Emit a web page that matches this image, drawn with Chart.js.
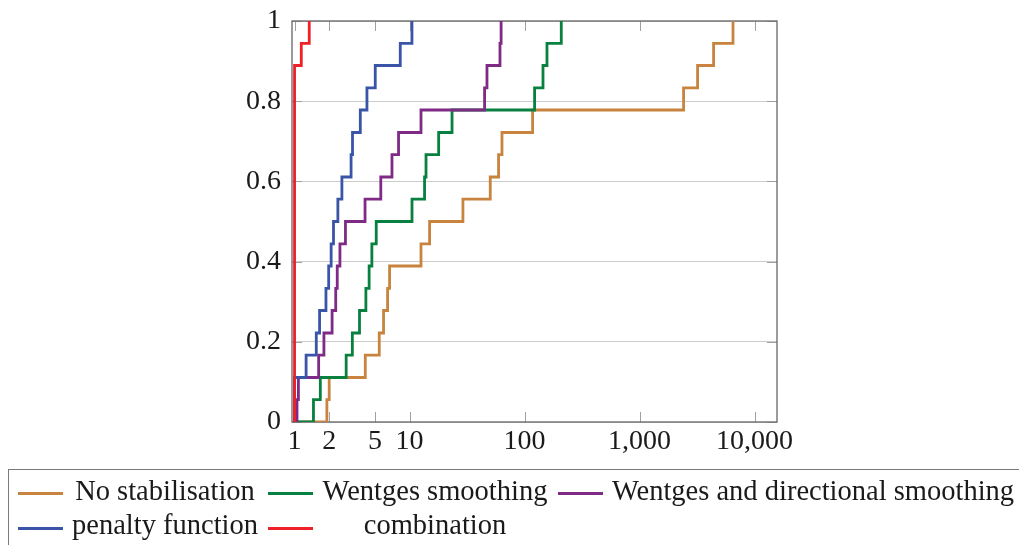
<!DOCTYPE html>
<html>
<head>
<meta charset="utf-8">
<script src="https://cdn.jsdelivr.net/npm/chart.js@4.4.1/dist/chart.umd.min.js"></script>
<style>
  html, body { margin: 0; padding: 0; background: #ffffff; }
  #wrap { position: relative; width: 1019px; height: 545px; overflow: hidden; }
  #c { position: absolute; left: 0; top: 0; }
  #legend { position: absolute; left: 8px; top: 469px; width: 1040px; height: 100px;
            border: 1.3px solid #7a7a7a; box-sizing: border-box; }
  .sw { position: absolute; height: 2.8px; width: 45px; }
  .lt { position: absolute; width: 440px; text-align: center; white-space: nowrap;
        font-family: "Liberation Serif", serif; font-size: 28.5px; line-height: 32px; color: #1a1a1a; }
</style>
</head>
<body>
<div id="wrap">
  <canvas id="c" width="1019" height="545"></canvas>
  <div id="legend"></div>
</div>
<script>
// ---- data (performance profile, 18 instances) ----
const seriesLabels = ['No stabilisation', 'Wentges smoothing', 'Wentges and directional smoothing', 'penalty function', 'combination'];

const noStabX = [1, 1.91, 2.0, 4.12, 5.45, 5.94, 6.44, 6.70, 12.57, 14.93, 29.1, 50.3, 59.4, 63.6, 117.4, 2413, 3194, 4399, 6490];
const noStabY = [0, 0.056, 0.111, 0.167, 0.222, 0.278, 0.333, 0.389, 0.444, 0.5, 0.556, 0.611, 0.667, 0.722, 0.778, 0.833, 0.889, 0.944, 1];

const wentgesX = [1, 1.46, 1.675, 2.81, 3.18, 3.67, 4.17, 4.45, 4.70, 5.13, 10.5, 13.5, 13.9, 17.9, 23.4, 122.2, 144.6, 156.6, 208.5];
const wentgesY = [0, 0.056, 0.111, 0.167, 0.222, 0.278, 0.333, 0.389, 0.444, 0.5, 0.556, 0.611, 0.667, 0.722, 0.778, 0.833, 0.889, 0.944, 1];

const wentgesDirX = [1, 1.05, 1.08, 1.62, 1.80, 2.12, 2.28, 2.35, 2.48, 2.77, 4.1, 5.62, 7.03, 8.02, 12.57, 44.9, 47.1, 61.1, 62.5];
const wentgesDirY = [0, 0.056, 0.111, 0.167, 0.222, 0.278, 0.333, 0.389, 0.444, 0.5, 0.556, 0.611, 0.667, 0.722, 0.778, 0.833, 0.889, 0.944, 1];

const penaltyX = [1, 1, 1.26, 1.545, 1.65, 1.875, 1.98, 2.08, 2.18, 2.38, 2.58, 3.10, 3.19, 3.73, 4.26, 5.03, 8.30, 10.49];
const penaltyY = [0, 0.111, 0.167, 0.222, 0.278, 0.333, 0.389, 0.444, 0.5, 0.556, 0.611, 0.667, 0.722, 0.778, 0.833, 0.889, 0.944, 1];

const combinationX = [1, 1, 1.144, 1.342];
const combinationY = [0, 0.889, 0.944, 1];

const xTickValues = [1, 2, 5, 10, 100, 1000, 10000];
const xTickLabels = ['1', '2', '5', '10', '100', '1,000', '10,000'];
const yTickValues = [0, 0.2, 0.4, 0.6, 0.8, 1];
const yTickLabels = ['0', '0.2', '0.4', '0.6', '0.8', '1'];

// ---- styles ----
const seriesColors = ['#C8843E', '#08803F', '#7F2A84', '#3A54A8', '#EE2128'];
const FONT = 'Liberation Serif';

const seriesX = [noStabX, wentgesX, wentgesDirX, penaltyX, combinationX];
const seriesY = [noStabY, wentgesY, wentgesDirY, penaltyY, combinationY];

const datasets = seriesLabels.map((lab, i) => ({
  label: lab,
  data: seriesX[i].map((x, j) => ({ x: x, y: seriesY[i][j] })),
  borderColor: seriesColors[i],
  backgroundColor: seriesColors[i],
  borderWidth: 2.8,
  pointRadius: 0,
  fill: false,
  stepped: 'before',
  tension: 0,
  order: seriesLabels.length - i
}));

const framePlugin = {
  id: 'frame',
  beforeDatasetsDraw(chart) {
    const { ctx, chartArea: a, scales } = chart;
    const x = scales.x, y = scales.y;
    ctx.save();
    ctx.strokeStyle = '#a0a0a0';
    ctx.lineWidth = 1;
    ctx.beginPath();
    x.ticks.forEach(t => {
      const px = Math.round(x.getPixelForValue(t.value)) + 0.5;
      ctx.moveTo(px, a.bottom); ctx.lineTo(px, a.bottom - 10);
      ctx.moveTo(px, a.top); ctx.lineTo(px, a.top + 10);
    });
    y.ticks.forEach(t => {
      const py = Math.round(y.getPixelForValue(t.value)) + 0.5;
      ctx.moveTo(a.left, py); ctx.lineTo(a.left + 10, py);
      ctx.moveTo(a.right, py); ctx.lineTo(a.right - 10, py);
    });
    ctx.stroke();
    ctx.strokeStyle = '#666666';
    ctx.lineWidth = 1.3;
    ctx.strokeRect(a.left, a.top, a.right - a.left, a.bottom - a.top);
    ctx.restore();
  }
};

new Chart(document.getElementById('c'), {
  type: 'line',
  data: { datasets: datasets },
  options: {
    responsive: false,
    animation: false,
    devicePixelRatio: 1,
    layout: { padding: { left: 0, right: 242, top: 21, bottom: 83 } },
    plugins: { legend: { display: false }, tooltip: { enabled: false } },
    scales: {
      x: {
        type: 'logarithmic',
        min: 0.95,
        max: 15660,
        bounds: 'data',
        afterBuildTicks: s => { s.ticks = xTickValues.map(v => ({ value: v })); },
        afterFit: s => { s.height = 40; s.paddingLeft = 0; s.paddingRight = 0; },
        grid: { display: false, drawTicks: false },
        border: { display: false },
        ticks: {
          autoSkip: false, maxRotation: 0, minRotation: 0, padding: 3,
          color: '#1a1a1a', font: { family: FONT, size: 28 },
          callback: (v, i) => xTickLabels[i]
        }
      },
      y: {
        type: 'linear',
        min: 0,
        max: 1,
        afterBuildTicks: s => { s.ticks = yTickValues.map(v => ({ value: v })); },
        afterFit: s => { s.width = 292; s.paddingTop = 0; s.paddingBottom = 0; },
        grid: { color: '#cccccc', lineWidth: 1, drawTicks: false },
        border: { display: false },
        ticks: {
          padding: 11,
          color: '#1a1a1a', font: { family: FONT, size: 28 },
          callback: (v, i) => yTickLabels[i]
        }
      }
    }
  },
  plugins: [framePlugin]
});

// ---- legend (HTML, real text) ----
const legend = document.getElementById('legend');
const swX = [17, 267, 557];        // swatch left edges per column (page coords)
const txC = [164, 434, 812];       // text centres per column
const swY = [492.3, 527.3];        // swatch centres per row
const txTop = [473.7, 508.4];      // text box tops per row
seriesLabels.forEach((lab, i) => {
  const row = Math.floor(i / 3), col = i % 3;
  const sw = document.createElement('div');
  sw.className = 'sw';
  sw.style.background = seriesColors[i];
  sw.style.left = (swX[col] - 8) + 'px';
  sw.style.top = (swY[row] - 1.4 - 469) + 'px';
  legend.appendChild(sw);
  const t = document.createElement('div');
  t.className = 'lt';
  t.textContent = lab;
  t.style.left = (txC[col] - 220 - 8) + 'px';
  t.style.top = (txTop[row] - 469) + 'px';
  legend.appendChild(t);
});
</script>
</body>
</html>
